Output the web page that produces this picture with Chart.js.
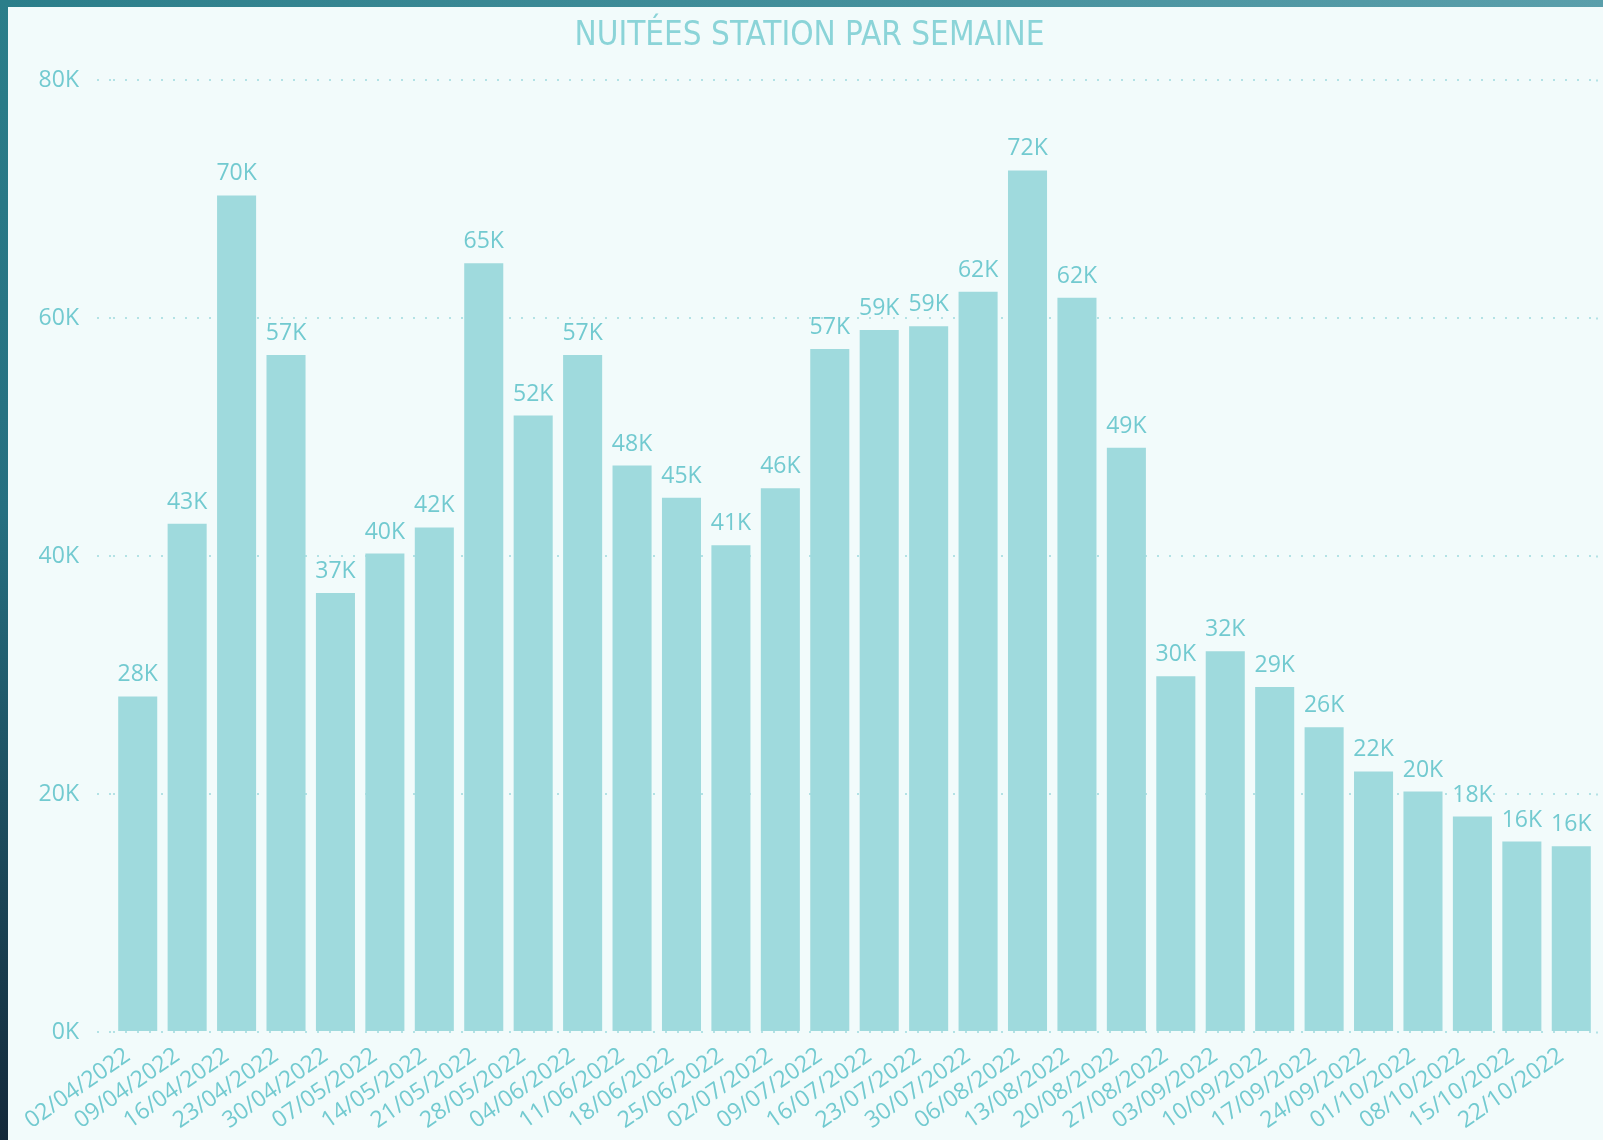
<!DOCTYPE html>
<html><head><meta charset="utf-8">
<script src="https://cdn.jsdelivr.net/npm/chart.js@4/dist/chart.umd.min.js"></script>
<style>
html,body{margin:0;padding:0;width:1603px;height:1140px;overflow:hidden;background:#f2fbfb;}
#topbar{position:absolute;left:0;top:0;width:1603px;height:7px;background:linear-gradient(to right,#2b7e8a,#5a9fab);}
#leftbar{position:absolute;left:0;top:0;width:8px;height:1140px;background:linear-gradient(to bottom,#2b7e8a,#266f80 45%,#14293a);}
#wrap{position:absolute;left:0;top:0;width:1603px;height:1140px;}
#title{position:absolute;left:16px;width:1587px;top:17px;height:33px;line-height:33px;text-align:center;
  font-family:"DejaVu Sans Condensed","DejaVu Sans",sans-serif;font-size:33px;color:#8bd4d8;white-space:nowrap;}
</style></head><body>
<div id="topbar"></div><div id="leftbar"></div>
<div id="wrap"><canvas id="c" width="1603" height="1140"></canvas></div>
<div id="title"></div>
<script>
const categories = ["02/04/2022","09/04/2022","16/04/2022","23/04/2022","30/04/2022","07/05/2022","14/05/2022","21/05/2022","28/05/2022","04/06/2022","11/06/2022","18/06/2022","25/06/2022","02/07/2022","09/07/2022","16/07/2022","23/07/2022","30/07/2022","06/08/2022","13/08/2022","20/08/2022","27/08/2022","03/09/2022","10/09/2022","17/09/2022","24/09/2022","01/10/2022","08/10/2022","15/10/2022","22/10/2022"];
const nuitees = [28200,42700,70300,56900,36900,40200,42400,64600,51800,56900,47600,44900,40900,45700,57400,59000,59300,62200,72400,61700,49100,29900,32000,29000,25600,21900,20200,18100,16000,15600];
const yTicks = [0,20000,40000,60000,80000];
const titleText = "NUITÉES STATION PAR SEMAINE";

document.getElementById('title').textContent = titleText;

const fmtK = v => Math.round(v/1000) + "K";
const LABEL_FONT = '"Open Sans", "Noto Sans", sans-serif';
const TEXT_COLOR = '#72cad0';
const GRID_COLOR = '#b3e2e5';

const valueLabels = {
  id: 'valueLabels',
  afterDatasetsDraw(chart) {
    const ctx = chart.ctx;
    const meta = chart.getDatasetMeta(0);
    ctx.save();
    ctx.font = '23px ' + LABEL_FONT;
    ctx.fillStyle = TEXT_COLOR;
    ctx.textAlign = 'center';
    ctx.textBaseline = 'alphabetic';
    meta.data.forEach((bar, i) => {
      ctx.fillText(fmtK(nuitees[i]), bar.x, bar.y - 15);
    });
    ctx.restore();
  }
};

new Chart(document.getElementById('c'), {
  type: 'bar',
  data: {
    labels: categories,
    datasets: [{
      data: nuitees,
      backgroundColor: '#9fdadd',
      borderWidth: 0,
      categoryPercentage: 1,
      barPercentage: 0.79
    }]
  },
  options: {
    responsive: false,
    animation: false,
    devicePixelRatio: 1,
    layout: { padding: { top: 80, left: 0, right: 0, bottom: 0 } },
    plugins: {
      legend: { display: false },
      tooltip: { enabled: false },
      title: { display: false }
    },
    scales: {
      x: {
        grid: { display: false, drawTicks: false },
        border: { display: false },
        ticks: {
          color: TEXT_COLOR,
          font: { family: LABEL_FONT, size: 23 },
          minRotation: 35, maxRotation: 35,
          autoSkip: false,
          padding: 10,
          labelOffset: -10
        },
        afterFit(scale) { scale.height = 108; }
      },
      y: {
        min: 0, max: 80000,
        afterBuildTicks(scale) { scale.ticks = yTicks.map(v => ({ value: v })); },
        border: { display: false, dash: [2, 10] },
        grid: {
          color: GRID_COLOR,
          lineWidth: 2,
          tickLength: 16,
          tickColor: GRID_COLOR,
          tickWidth: 2,
          tickBorderDash: [2, 10]
        },
        ticks: {
          color: TEXT_COLOR,
          font: { family: LABEL_FONT, size: 23 },
          padding: 18,
          callback: v => fmtK(v)
        },
        afterFit(scale) { scale.width = 113; }
      },
      yRight: {
        position: 'right',
        min: 0, max: 80000,
        afterBuildTicks(scale) { scale.ticks = yTicks.map(v => ({ value: v })); },
        border: { display: false },
        grid: {
          drawOnChartArea: false,
          tickLength: 7,
          tickColor: GRID_COLOR,
          tickWidth: 2,
          tickBorderDash: [2, 10]
        },
        ticks: { display: false },
        afterFit(scale) { scale.width = 7; }
      }
    }
  },
  plugins: [valueLabels]
});
</script>
</body></html>
